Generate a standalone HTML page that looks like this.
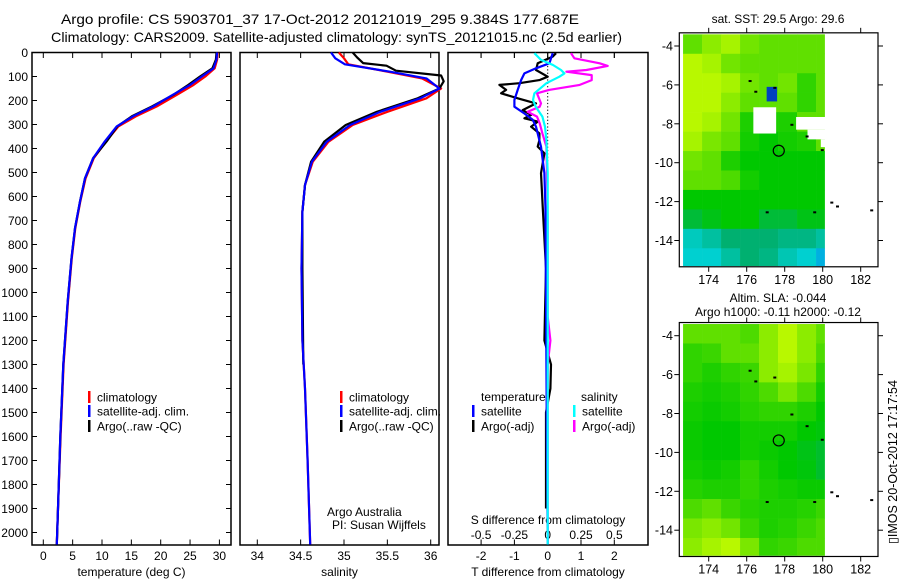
<!DOCTYPE html>
<html><head><meta charset="utf-8"><style>
body{margin:0;background:#fff}
svg{display:block;font-family:"Liberation Sans",sans-serif}
</style></head><body>
<svg id="c" width="900" height="580" viewBox="0 0 900 580">
<rect width="900" height="580" fill="#fff"/>
<text x="61" y="24" font-size="14" textLength="518" lengthAdjust="spacingAndGlyphs">Argo profile: CS 5903701_37 17-Oct-2012 20121019_295 9.384S 177.687E</text>
<text x="51" y="42" font-size="14" textLength="571" lengthAdjust="spacingAndGlyphs">Climatology: CARS2009. Satellite-adjusted climatology: synTS_20121015.nc (2.5d earlier)</text>
<g id="g1"></g>
<g id="g2"></g>
<g id="g3"></g>
<g id="m1"></g>
<g id="m2"></g>
<text x="778" y="23" font-size="12" text-anchor="middle">sat. SST: 29.5 Argo: 29.6</text>
<text x="778" y="302" font-size="12" text-anchor="middle">Altim. SLA: -0.044</text>
<text x="778" y="316" font-size="12" text-anchor="middle">Argo h1000: -0.11 h2000: -0.12</text>
<text x="0" y="0" font-size="12.5" transform="translate(897,544) rotate(-90)">▯IMOS 20-Oct-2012 17:17:54</text>
</svg>
<script>
// ---- profile data ----
const tDepth=[0,30,66,100,135,176,225,266,308,370,440,524,621,732,857,1038,1300,1600,1900,2050];
const tClim=[29.7,29.6,29.2,27.6,25.6,22.8,19.3,15.8,12.8,10.7,8.6,7.2,6.3,5.45,4.85,4.2,3.45,2.95,2.5,2.3];
const tArgo=[29.5,29.4,28.8,26.7,24.7,22.2,18.5,15.1,12.6,10.8,8.5,7.1,6.25,5.4,4.8,4.15,3.4,2.9,2.5,2.3];
const tSat=[29.6,29.5,29.0,27.0,25.0,22.1,18.7,15.3,12.5,10.5,8.5,7.1,6.25,5.4,4.8,4.15,3.4,2.9,2.5,2.3];
const sDepth=[0,24,49,80,108,150,191,247,302,372,455,552,663,900,1200,1400,1700,2050];
const sClim=[34.94,35.0,35.05,35.5,35.9,36.12,35.95,35.5,35.1,34.82,34.64,34.55,34.52,34.51,34.52,34.55,34.58,34.61];
const sSat=[34.85,34.9,35.01,35.53,35.95,36.1,35.88,35.42,35.07,34.8,34.63,34.55,34.52,34.51,34.52,34.55,34.58,34.61];
const saDepth=[0,20,44,55,76,96,120,150,191,247,302,372,455,552,663,900,1300];
const sArgo=[35.1,35.15,35.22,35.49,35.6,36.12,36.15,36.1,35.85,35.38,35.02,34.77,34.62,34.55,34.52,34.52,34.53];
const dtArgoDepth=[3,17,45,73,101,115,128,135,156,170,191,212,240,260,274,288,309,337,365,392,420,503,642,900,1200,1300,1400,1500,1900];
const dtArgo=[0.25,0.15,-0.3,-0.35,0,-0.25,-0.85,-1.45,-1.25,-1.4,-0.9,-0.35,-0.75,-0.5,-0.7,-0.3,-0.5,-0.25,-0.25,-0.3,-0.1,-0.2,-0.15,-0.05,-0.1,0.1,0.08,-0.05,-0.05];
const dtSatDepth=[3,45,66,87,115,156,198,226,254,280,309,392,503,642,1000,1500,2050];
const dtSat=[0.15,0.05,-0.35,-0.7,-0.8,-0.9,-1.0,-1.0,-0.7,-0.45,-0.35,-0.2,-0.1,-0.07,-0.05,-0.03,0];
const dsSatDepth=[3,31,52,73,87,101,128,170,198,226,267,309,365,503,1000,2050];
const dsSat=[-0.1,-0.05,0.04,0.1,0.125,0.088,-0.01,-0.1,-0.11,-0.09,-0.04,-0.02,-0.01,0,0,0];
const dsArgoDepth=[3,24,45,56,73,80,94,115,135,156,170,212,226,247,267,295,337,392,503,700,1100,1200,1300,2050];
const dsArgo=[0.175,0.2,0.39,0.45,0.29,0.14,0.33,0.33,0.24,0.01,-0.08,-0.05,-0.06,-0.15,-0.08,-0.06,-0.04,-0.01,-0.005,0,0,0.02,0,0];
const depthTicks=[0,100,200,300,400,500,600,700,800,900,1000,1100,1200,1300,1400,1500,1600,1700,1800,1900,2000];
const tTicks=[0,5,10,15,20,25,30];
const sTicks=[34,34.5,35,35.5,36];
const sTickLabels=["34","34.5","35","35.5","36"];
const dtTicks=[-2,-1,0,1,2];
const dsTicks=[-0.5,-0.25,0,0.25,0.5];
// ---- map data (colour index 0 blue .. 5 yellow-green), 1-degree cells ----
const mapLonEdges=[172.65,173.65,174.65,175.65,176.65,177.65,178.65,179.65,180.1];
const mapLatEdges=[-3.4,-4.4,-5.4,-6.4,-7.4,-8.4,-9.4,-10.4,-11.4,-12.4,-13.4,-14.4,-15.3];
const sstGrid=[
[4,4.5,4.8,4.2,4,4,4,4],[5,4.8,4.2,4,4,4,4,4],[5,5,4.8,4.2,4,4.2,3.5,4],[5,5,4.5,4,4,4,3.5,4],
[5,4.8,4.2,3.3,3.3,3.3,4,4],[4.8,4.3,4,3.2,3,3.2,3.3,4],[4.2,4,3.3,3,3,3,3,3],[4,4,3.8,3.2,3,3,3,3],
[3,3,3,3,3,3,3,3],[2.5,2.8,3,3,2.5,2.5,2.8,2.8],[1.2,1.5,2,2,2,1.8,1.8,1.5],[1,1,1.5,2,1.8,1.3,1,0.5]];
const slaGrid=[
[4,4,4,3.8,4.5,5,4.5,4],[3.5,3.6,4,4,4.5,5,4.5,3.8],[3.5,3.3,3.5,3.6,4.5,4.8,4.3,3.5],[3.3,3.2,3.3,3.5,3.8,4.3,3.8,3.2],
[3.2,3.1,3.2,3.4,3.5,3.5,3.3,3.0],[3.1,3.0,3.0,3.2,3.2,3.2,3.0,2.9],[3.1,3.0,3.0,3.2,3.1,3.0,2.8,2.6],[3.2,3.1,3.2,3.5,3.2,3.0,2.9,2.6],
[3.4,3.3,3.3,3.5,3.3,3.2,3.1,3.1],[3.8,4.0,3.6,3.4,3.3,3.3,3.4,3.6],[4.3,4.5,4.2,3.6,3.3,3.4,3.6,3.8],[4.5,4.8,5,4.3,3.5,3.6,3.8,3.8]];
const lonTicks=[174,176,178,180,182];
const latTicks=[-4,-6,-8,-10,-12,-14];
const argoLon=177.687, argoLat=-9.384;

const NS='http://www.w3.org/2000/svg';
function mk(p,tag,at){const e=document.createElementNS(NS,tag);for(const k in at)e.setAttribute(k,at[k]);p.appendChild(e);return e;}
const yD=d=>52.5+0.24*d;
function txt(p,x,y,s,size,anchor){const t=mk(p,'text',{x:x,y:y,'font-size':size,'text-anchor':anchor||'middle'});t.textContent=s;return t;}

function panel(g,x0,x1,sx,ticks,labels,title,name){
  const f=mk(g,'rect',{x:x0,y:52.5,width:x1-x0,height:492.5,fill:'none',stroke:'#000','stroke-width':1.5});
  
  
  ticks.forEach((v,i)=>{const x=sx(v);
    mk(g,'line',{x1:x,x2:x,y1:52.5,y2:58,stroke:'#000'});
    mk(g,'line',{x1:x,x2:x,y1:545,y2:539.5,stroke:'#000'});
    const t=txt(g,x,560,labels[i],12);
    
    });
  const tt=txt(g,(x0+x1)/2,576,title,12);
  
  
}
function line(g,xs,ds,sx,col,name){
  const pts=xs.map((v,i)=>sx(v).toFixed(1)+','+yD(ds[i]).toFixed(1)).join(' ');
  const p=mk(g,'polyline',{points:pts,fill:'none',stroke:col,'stroke-width':2.2,'stroke-linejoin':'round'});
  
  
}
function legend(g,x,y,col,label,name){
  mk(g,'rect',{x:x,y:y-6,width:2.5,height:12,fill:col});
  const t=txt(g,x+9,y+4.5,label,12,'start');
  
  
}
// Panel 1
const g1=document.getElementById('g1');
const sxT=v=>43.3+5.87*v;
panel(g1,32,231,sxT,tTicks,tTicks.map(String),'temperature (deg C)','temperature');
depthTicks.forEach(d=>{const y=yD(d);
  mk(g1,'line',{x1:32,x2:37,y1:y,y2:y,stroke:'#000'});
  mk(g1,'line',{x1:231,x2:226,y1:y,y2:y,stroke:'#000'});
  const t=txt(g1,28,y+4.5,String(d),12,'end');
  
  });
line(g1,tClim,tDepth,sxT,'#f00','temperature-climatology-line');
line(g1,tArgo,tDepth,sxT,'#000','temperature-argo-line');
line(g1,tSat,tDepth,sxT,'#00f','temperature-satellite-line');
legend(g1,88,397,'#f00','climatology','legend-climatology');
legend(g1,88,411,'#00f','satellite-adj. clim.','legend-satellite');
legend(g1,88,426,'#000','Argo(..raw -QC)','legend-argo');
// Panel 2
const g2=document.getElementById('g2');
const sxS=v=>257.3+86.7*(v-34);
panel(g2,240,439,sxS,sTicks,sTickLabels,'salinity','salinity');
line(g2,sClim,sDepth,sxS,'#f00','salinity-climatology-line');
line(g2,sArgo,saDepth,sxS,'#000','salinity-argo-line');
line(g2,sSat,sDepth,sxS,'#00f','salinity-satellite-line');
legend(g2,340,397,'#f00','climatology','legend-climatology-2');
legend(g2,340,411,'#00f','satellite-adj. clim.','legend-satellite-2');
legend(g2,340,426,'#000','Argo(..raw -QC)','legend-argo-2');
let t=txt(g2,327,516,'Argo Australia',12,'start');
t=txt(g2,332,529,'PI: Susan Wijffels',12,'start');
// Panel 3
const g3=document.getElementById('g3');
const sxDT=v=>547.7+33.3*v;
const sxDS=v=>547.7+133.3*v;
panel(g3,448,648,sxDT,dtTicks,dtTicks.map(String),'T difference from climatology','t-difference');
dsTicks.forEach(v=>{const x=sxDS(v);
  mk(g3,'line',{x1:x,x2:x,y1:52.5,y2:58,stroke:'#000'});
  const tl=txt(g3,x,539,String(v),12);
  
  });
t=txt(g3,548,524,'S difference from climatology',12);
for(let d=0;d<2050;d+=14) mk(g3,'rect',{x:sxDT(0)-0.5,y:yD(d),width:1,height:1.2,fill:'#000'});
line(g3,dtArgo,dtArgoDepth,sxDT,'#000','t-diff-argo-line');
line(g3,dtSat,dtSatDepth,sxDT,'#00f','t-diff-satellite-line');
line(g3,dsArgo,dsArgoDepth,sxDS,'#f0f','s-diff-argo-line');
line(g3,dsSat,dsSatDepth,sxDS,'#0ff','s-diff-satellite-line');
t=txt(g3,481,401,'temperature',12,'start');
t=txt(g3,581,401,'salinity',12,'start');
legend(g3,472,411,'#00f','satellite','legend-t-satellite');
legend(g3,472,426,'#000','Argo(-adj)','legend-t-argo');
legend(g3,573,411,'#0ff','satellite','legend-s-satellite');
legend(g3,573,426,'#f0f','Argo(-adj)','legend-s-argo');
// Maps
const stops=[[0,144,240],[0,208,208],[0,176,112],[0,200,0],[96,224,0],[184,248,0]];
function cmap(v){v=Math.max(0,Math.min(5,v));const i=Math.min(4,Math.floor(v)),f=v-i;
  const a=stops[i],b=stops[i+1];return 'rgb('+a.map((c,k)=>Math.round(c+(b[k]-c)*f)).join(',')+')';}
function map(id,grid,top,name,extra){
  const g=document.getElementById(id);
  const mx=lon=>708.7+(lon-174)*19;
  const my=lat=>top+(-4-lat)*19.45;
  grid.forEach((row,r)=>row.forEach((v,c)=>{
    const x=mx(mapLonEdges[c]),x2=mx(mapLonEdges[c+1]),y=my(mapLatEdges[r]),y2=my(mapLatEdges[r+1]);
    const cell=mk(g,'rect',{x:x,y:y,width:x2-x+0.3,height:y2-y+0.3,fill:cmap(v)});
    
    
  }));
  if(extra)extra(g,mx,my);
  const x0=679.3,x1=878,y0=my(-3.4)-1.5,y1=my(-15.3)+1;
  const fr=mk(g,'rect',{x:x0,y:y0,width:x1-x0,height:y1-y0,fill:'none',stroke:'#000','stroke-width':1.2});
  
  
  lonTicks.forEach(l=>{const x=mx(l);
    mk(g,'line',{x1:x,x2:x,y1:y0,y2:y0-5,stroke:'#000'});
    mk(g,'line',{x1:x,x2:x,y1:y1,y2:y1+5,stroke:'#000'});
    const tl=txt(g,x,y1+17,String(l),12.5);
    
    });
  latTicks.forEach(l=>{const y=my(l);
    mk(g,'line',{x1:x0,x2:x0-5,y1:y,y2:y,stroke:'#000'});
    mk(g,'line',{x1:x1,x2:x1+5,y1:y,y2:y,stroke:'#000'});
    const tl=txt(g,673,y+4.5,String(l),12.5,'end');
    
    });
  const ci=mk(g,'circle',{cx:mx(argoLon),cy:my(argoLat),r:5.5,fill:'none',stroke:'#000','stroke-width':1.2});
  
  
  [[176.1,-5.75],[176.4,-6.3],[177.4,-6.1],[178.3,-8.0],[179.1,-8.6],[179.9,-9.3],[177.0,-12.5],[179.5,-12.5],[180.4,-12.0],[180.7,-12.2],[182.5,-12.4]].forEach(p=>{
    mk(g,'rect',{x:mx(p[0]),y:my(p[1]),width:3,height:2,fill:'#000'});});
}
map('m1',sstGrid,46,'sst-map',(g,mx,my)=>{
  mk(g,'rect',{x:mx(176.35),y:my(-7.15),width:mx(177.55)-mx(176.35),height:my(-8.5)-my(-7.15),fill:'#fff'});
  mk(g,'rect',{x:mx(178.6),y:my(-7.65),width:mx(180.2)-mx(178.6),height:my(-8.3)-my(-7.65),fill:'#fff'});
  mk(g,'rect',{x:mx(179.2),y:my(-8.3),width:mx(180.2)-mx(179.2),height:my(-8.8)-my(-8.3),fill:'#fff'});
  mk(g,'rect',{x:mx(179.9),y:my(-8.8),width:mx(180.2)-mx(179.9),height:my(-9.2)-my(-8.8),fill:'#fff'});
  mk(g,'rect',{x:mx(177.05),y:my(-6.1),width:mx(177.6)-mx(177.05),height:my(-6.85)-my(-6.1),fill:'#0040c0'});
});
map('m2',slaGrid,335.7,'sla-map',null);
</script>
</body></html>
